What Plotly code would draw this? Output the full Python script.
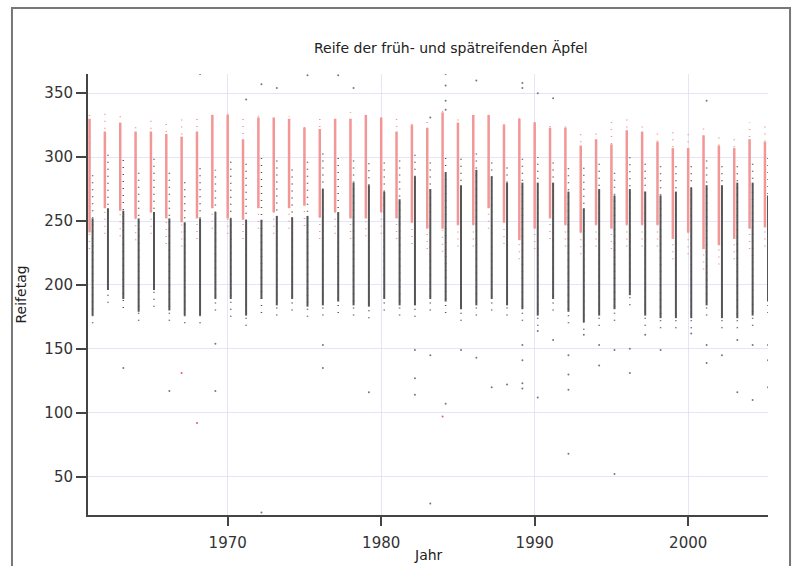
import plotly.graph_objects as go

years = list(range(1961, 2006))

# dense bands (Reifetag) per year
red_top = [330,320,327,320,320,318,316,320,333,333,314,331,331,330,323,322,330,330,333,331,320,325,323,335,327,333,333,325,330,327,323,323,309,314,310,321,320,312,307,307,317,309,307,314,312]
red_bot = [241,260,258,252,257,252,249,252,260,252,251,260,257,260,262,253,257,252,252,257,252,249,244,244,247,247,260,249,235,244,252,247,241,247,244,247,247,247,236,241,228,231,236,244,245]
blk_top = [252,260,258,252,257,252,249,252,257,252,251,251,254,253,254,275,257,280,278,273,267,285,275,288,278,290,285,280,280,280,280,273,260,275,270,275,273,270,273,276,278,278,280,280,270]
blk_bot = [176,196,189,179,196,180,176,176,189,189,176,189,184,189,183,184,187,184,183,189,184,184,189,187,181,184,189,184,181,176,189,179,171,176,181,192,176,174,174,174,184,174,174,176,187]

# sparse extents per year
red_max = [335,335,335,328,330,326,333,332,334,334,332,333,333,332,328,333,332,335,335,333,330,330,331,338,334,334,334,330,334,330,328,325,322,323,328,330,326,320,320,322,325,320,318,327,328]
red_min = [228,240,238,235,240,232,230,236,244,240,236,244,240,244,246,236,240,236,238,240,236,232,228,226,230,230,244,232,220,228,236,230,224,230,228,230,230,230,220,224,212,216,220,228,230]
blk_max = [290,305,300,290,300,292,285,295,290,300,295,300,298,292,300,305,300,300,298,296,300,305,300,300,302,305,300,296,300,300,298,296,292,296,292,300,298,296,296,296,298,296,296,298,300]
blk_min = [170,186,182,172,183,172,170,170,180,175,168,178,176,180,175,176,178,176,174,180,176,175,180,178,172,176,180,176,172,168,180,170,165,168,172,184,168,166,166,166,176,166,166,168,178]

# isolated outliers (gray)
out_years = [1966,1969,1972,1979,1963,1969,1976,1976,1982,1982,1982,1983,1985,1986,1983,1984,1987,1988,1989,1989,1989,1989,1990,1990,1991,1992,1992,1992,1993,1994,1994,1995,1995,1996,1996,1997,1998,2000,2001,2001,2002,2003,2003,2004,2004,2005,2005,2005,
             1968,1972,1973,1975,1977,1978,1971,1984,1984,1984,1984,1986,1989,1989,1990,1991,2001,1983,1992]
out_vals = [117,117,22,116,135,154,153,135,127,114,149,145,149,143,29,107,120,122,123,119,153,141,112,164,157,118,68,145,161,153,137,52,149,150,131,161,149,162,139,153,145,157,116,153,110,120,153,141,
            365,357,354,364,364,354,345,365,356,344,337,360,358,354,350,346,344,331,130]
# isolated outliers (red)
red_out_years = [1968, 1984, 1967]
red_out_vals = [92, 97, 131]


def segs(xs, lo, hi, dx=0.0):
    X, Y = [], []
    for x, a, b in zip(xs, lo, hi):
        X += [x + dx, x + dx, None]
        Y += [a, b, None]
    return X, Y


fig = go.Figure()
RED = "rgb(243,150,150)"
BLK = "rgb(85,85,85)"

x, y = segs(years, blk_min, blk_max, 0.2)
fig.add_trace(go.Scatter(x=x, y=y, mode="lines", line=dict(color=BLK, width=1.5, dash="1px,6px"), hoverinfo="skip"))
x, y = segs(years, red_min, red_max, 0.0)
fig.add_trace(go.Scatter(x=x, y=y, mode="lines", line=dict(color=RED, width=1.5, dash="1px,6px"), hoverinfo="skip"))
x, y = segs(years, blk_bot, blk_top, 0.2)
fig.add_trace(go.Scatter(x=x, y=y, mode="lines", line=dict(color=BLK, width=2), hoverinfo="skip"))
x, y = segs(years, red_bot, red_top, 0.0)
fig.add_trace(go.Scatter(x=x, y=y, mode="lines", line=dict(color=RED, width=2.5), hoverinfo="skip"))
fig.add_trace(go.Scatter(x=[v + 0.2 for v in out_years], y=out_vals, mode="markers",
                         marker=dict(color="rgb(120,120,120)", size=2), hoverinfo="skip"))
fig.add_trace(go.Scatter(x=red_out_years, y=red_out_vals, mode="markers",
                         marker=dict(color="rgb(235,90,90)", size=2), hoverinfo="skip"))

FONT = "DejaVu Sans"
grid = "rgba(215,215,245,0.65)"
fig.update_layout(
    width=798, height=566,
    margin=dict(l=88, r=30, t=74, b=51),
    paper_bgcolor="white", plot_bgcolor="white",
    showlegend=False,
    font=dict(family=FONT, size=14, color="#333"),
    xaxis=dict(range=[1960.9, 2005.2], tickvals=[1970, 1980, 1990, 2000], ticks="outside", ticklen=9,
               tickwidth=1.5, tickcolor="#444", showline=True, linewidth=2, linecolor="#444",
               showgrid=True, gridcolor=grid, gridwidth=1, zeroline=False, tickfont=dict(size=15),
               ticklabelstandoff=4),
    yaxis=dict(range=[20, 365], tickvals=[50, 100, 150, 200, 250, 300, 350], ticks="outside", ticklen=10,
               tickwidth=1.5, tickcolor="#444", showline=True, linewidth=2, linecolor="#444",
               showgrid=True, gridcolor=grid, gridwidth=1, zeroline=False, tickfont=dict(size=15)),
    annotations=[
        dict(text="Reife der früh- und spätreifenden Äpfel", xref="paper", yref="paper",
             x=0.534, y=1.061, xanchor="center", yanchor="middle", showarrow=False,
             font=dict(size=14, color="#222")),
        dict(text="Reifetag", xref="paper", yref="paper", x=-0.1, y=0.5, textangle=-90,
             xanchor="center", yanchor="middle", showarrow=False, font=dict(size=14, color="#222")),
        dict(text="Jahr", xref="paper", yref="paper", x=0.5, y=-0.1135, xanchor="center",
             yanchor="bottom", showarrow=False, font=dict(size=14, color="#222")),
    ],
    shapes=[dict(type="rect", xref="paper", yref="paper", x0=-0.1118, x1=1.0324, y0=-0.13, y1=1.1496,
                 line=dict(color="#777", width=2), fillcolor="rgba(0,0,0,0)", layer="below")],
)

fig.write_html("out.html")
